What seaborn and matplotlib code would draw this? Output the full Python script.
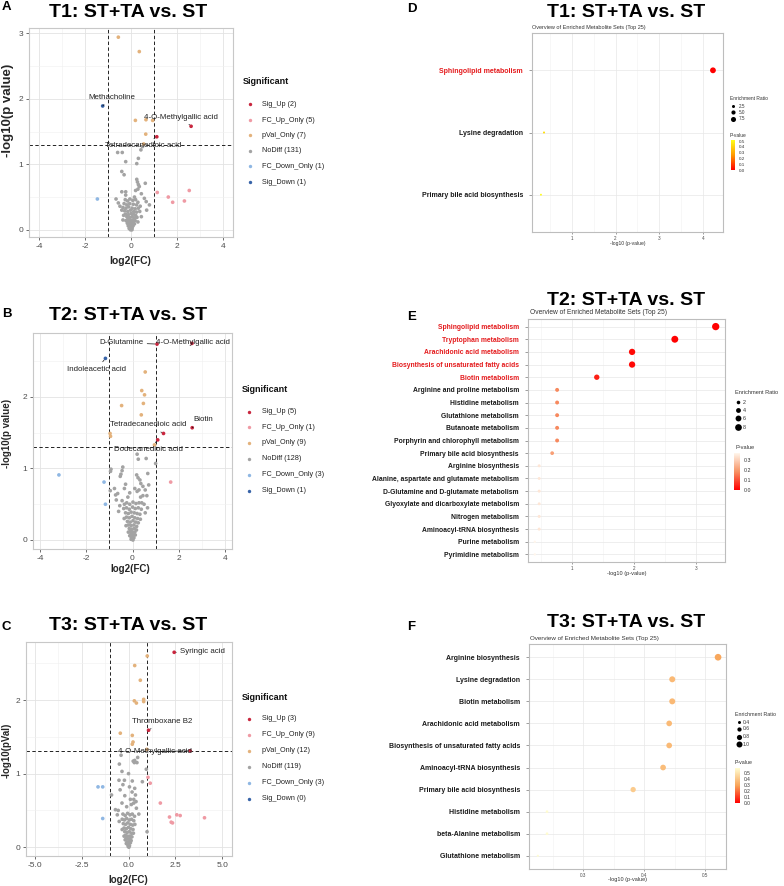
import numpy as np
import pandas as pd
import matplotlib
matplotlib.use("Agg")
import matplotlib.pyplot as plt
import seaborn as sns
from matplotlib.colors import LinearSegmentedColormap, Normalize
from matplotlib.cm import ScalarMappable

sns.set_theme(style="white")
plt.rcParams['font.family'] = ['Liberation Sans', 'DejaVu Sans']

# ---------------- DATA ----------------
# Volcano A (T1)
A_sig_up = [(2.61, 1.58), (1.12, 1.42)]
A_fc_up = [(1.14, 0.57), (1.62, 0.50), (1.81, 0.42), (2.32, 0.44), (2.53, 0.60)]
A_pval = [(-0.55, 2.94), (0.36, 2.72), (0.19, 1.67), (0.65, 1.68), (0.94, 1.67), (0.64, 1.46), (0.55, 1.31)]
A_fc_down = [(-1.46, 0.47)]
A_sig_down = [(-1.23, 1.89)]
A_nodiff = [(-0.58, 1.18), (-0.38, 1.18), (0.43, 1.22), (0.50, 1.27), (-0.23, 1.04), (0.32, 1.09), (0.25, 1.01),
            (-0.40, 0.89), (-0.30, 0.84), (0.25, 0.77), (0.28, 0.73), (0.32, 0.69), (0.36, 0.66), (0.62, 0.71),
            (0.30, 0.62), (0.20, 0.60), (-0.40, 0.58), (-0.23, 0.58), (-0.23, 0.53), (-0.65, 0.47), (-0.55, 0.41),
            (-0.48, 0.36), (0.58, 0.48), (0.66, 0.43), (0.80, 0.38), (0.68, 0.30), (0.45, 0.55), (0.15, 0.50),
            (-0.25, 0.46), (-0.15, 0.44), (-0.05, 0.47), (0.08, 0.45), (0.20, 0.46), (0.30, 0.42),
            (-0.30, 0.40), (-0.18, 0.38), (-0.06, 0.40), (0.10, 0.39), (0.24, 0.38), (0.40, 0.36),
            (-0.35, 0.34), (-0.22, 0.33), (-0.10, 0.35), (0.05, 0.33), (0.18, 0.32), (0.32, 0.33),
            (-0.28, 0.29), (-0.14, 0.28), (-0.02, 0.30), (0.12, 0.28), (0.24, 0.27), (0.38, 0.28),
            (-0.24, 0.24), (-0.12, 0.23), (0.00, 0.25), (0.10, 0.24), (0.20, 0.22), (-0.32, 0.22),
            (-0.18, 0.20), (-0.06, 0.19), (0.05, 0.20), (0.15, 0.18), (0.26, 0.19),
            (-0.14, 0.16), (-0.03, 0.15), (0.08, 0.15), (0.18, 0.14), (-0.22, 0.14),
            (-0.10, 0.12), (0.00, 0.11), (0.10, 0.11), (-0.16, 0.10), (0.15, 0.09),
            (-0.07, 0.08), (0.03, 0.07), (0.09, 0.06), (-0.12, 0.06),
            (-0.05, 0.04), (0.00, 0.03), (0.05, 0.03), (-0.08, 0.02), (0.02, 0.01), (-0.02, 0.00), (0.04, 0.00),
            (-0.40, 0.30), (0.45, 0.20), (-0.35, 0.15), (0.30, 0.12)]
A_counts = [2, 5, 7, 131, 1, 1]

# Volcano B (T2)
B_sig_up = [(1.06, 2.74), (2.57, 2.75), (1.34, 1.49), (1.09, 1.40), (2.58, 1.57)]
B_fc_up = [(1.65, 0.81)]
B_pval = [(0.55, 2.35), (0.40, 2.09), (0.52, 2.03), (0.47, 1.91), (-0.47, 1.88), (0.38, 1.75),
          (-0.97, 1.49), (-0.95, 1.45), (0.95, 1.33)]
B_fc_down = [(-3.18, 0.91), (-1.23, 0.81), (-1.17, 0.50)]
B_sig_down = [(-1.17, 2.54)]
B_nodiff = [(0.25, 1.13), (0.59, 1.14), (0.20, 1.20), (-0.93, 0.99), (-0.95, 0.96), (-0.42, 1.02), (-0.45, 0.97),
            (-0.50, 0.92), (-0.53, 0.89), (1.00, 1.07), (0.66, 0.93), (0.18, 0.91), (0.24, 0.87), (0.32, 0.84),
            (0.36, 0.79), (-0.78, 0.72), (-0.64, 0.65), (-0.96, 0.69), (-0.73, 0.63), (-0.70, 0.56), (0.45, 0.75),
            (0.55, 0.70), (0.62, 0.62), (0.70, 0.77), (-0.30, 0.78), (-0.35, 0.72), (-0.20, 0.60), (0.35, 0.60),
            (0.20, 0.68), (0.10, 0.72), (-0.45, 0.55), (-0.55, 0.48), (0.50, 0.50), (0.65, 0.45), (0.40, 0.52),
            (-0.60, 0.40), (0.55, 0.38), (-0.12, 0.66), (0.28, 0.70), (0.45, 0.62),
            (-0.35, 0.50), (-0.25, 0.52), (-0.12, 0.50), (0.02, 0.53), (0.15, 0.51), (0.28, 0.52),
            (-0.38, 0.44), (-0.26, 0.45), (-0.14, 0.43), (0.00, 0.46), (0.12, 0.44), (0.25, 0.45), (0.38, 0.43),
            (-0.30, 0.38), (-0.18, 0.37), (-0.06, 0.39), (0.08, 0.38), (0.20, 0.37), (0.32, 0.36),
            (-0.26, 0.32), (-0.14, 0.31), (-0.02, 0.33), (0.10, 0.31), (0.22, 0.30), (-0.36, 0.30), (0.34, 0.29),
            (-0.22, 0.26), (-0.10, 0.25), (0.02, 0.27), (0.14, 0.25), (0.25, 0.24),
            (-0.18, 0.21), (-0.06, 0.20), (0.06, 0.21), (0.18, 0.19), (-0.28, 0.20),
            (-0.14, 0.16), (-0.03, 0.15), (0.08, 0.16), (0.17, 0.14),
            (-0.10, 0.12), (0.00, 0.11), (0.10, 0.11), (-0.18, 0.11),
            (-0.07, 0.08), (0.04, 0.07), (0.12, 0.07), (-0.12, 0.06),
            (-0.05, 0.04), (0.00, 0.03), (0.06, 0.03), (-0.02, 0.01), (0.02, 0.00), (-0.06, 0.01)]
B_counts = [5, 1, 9, 128, 3, 1]

# Volcano C (T3)
C_sig_up = [(2.44, 2.65), (1.07, 1.59), (3.29, 1.31)]
C_fc_up = [(1.04, 0.95), (1.16, 0.87), (1.70, 0.60), (2.19, 0.41), (2.28, 0.34), (2.35, 0.33),
           (2.58, 0.44), (2.76, 0.43), (4.06, 0.40)]
C_pval = [(1.00, 2.60), (0.33, 2.47), (0.63, 2.27), (0.31, 1.99), (0.42, 1.96), (0.81, 2.01), (0.81, 1.98),
          (-0.44, 1.55), (0.20, 1.52), (0.24, 1.43), (0.20, 1.40), (0.98, 1.33)]
C_fc_down = [(-1.63, 0.82), (-1.38, 0.82), (-1.38, 0.39)]
C_sig_down = []
C_nodiff = [(-0.40, 1.25), (0.31, 1.15), (0.25, 1.17), (-0.49, 1.13), (0.49, 1.22), (0.95, 1.06), (-0.35, 1.03),
            (0.00, 1.00), (-0.51, 0.91), (-0.22, 0.91), (0.20, 0.90), (0.74, 0.89), (0.33, 1.18), (0.45, 1.15),
            (0.33, 0.80), (0.19, 0.75), (0.37, 0.71), (0.28, 0.65), (0.28, 0.60), (0.42, 0.53), (-0.91, 0.71),
            (-0.70, 0.51), (-0.60, 0.44), (0.99, 0.21), (-0.30, 0.85), (-0.45, 0.78), (-0.20, 0.70), (0.05, 0.82),
            (0.10, 0.65), (-0.35, 0.60), (0.55, 0.45), (-0.50, 0.35), (-0.55, 0.50), (0.15, 0.58), (-0.10, 0.55),
            (0.40, 0.62),
            (-0.30, 0.45), (-0.18, 0.43), (-0.05, 0.46), (0.08, 0.44), (0.20, 0.45), (0.32, 0.42),
            (-0.34, 0.38), (-0.22, 0.37), (-0.10, 0.39), (0.04, 0.37), (0.16, 0.38), (0.28, 0.36),
            (-0.28, 0.32), (-0.16, 0.31), (-0.04, 0.33), (0.10, 0.31), (0.22, 0.30), (0.34, 0.31),
            (-0.24, 0.26), (-0.12, 0.25), (0.00, 0.27), (0.12, 0.25), (0.24, 0.24), (-0.34, 0.24),
            (-0.20, 0.21), (-0.08, 0.20), (0.04, 0.21), (0.16, 0.19), (0.26, 0.19),
            (-0.16, 0.16), (-0.04, 0.15), (0.08, 0.15), (0.18, 0.14), (-0.24, 0.15),
            (-0.12, 0.12), (-0.02, 0.11), (0.08, 0.11), (0.14, 0.09), (-0.18, 0.10),
            (-0.08, 0.07), (0.02, 0.07), (0.10, 0.06), (-0.12, 0.05),
            (-0.05, 0.04), (0.00, 0.03), (0.05, 0.02), (-0.02, 0.01), (0.02, 0.00)]
C_counts = [3, 9, 12, 119, 3, 0]

LEGEND_GROUPS = ["Sig_Up", "FC_Up_Only", "pVal_Only", "NoDiff", "FC_Down_Only", "Sig_Down"]

# Enrichment D (T1)
D_sets = ["Sphingolipid metabolism", "Lysine degradation", "Primary bile acid biosynthesis"]
D_neglogp = [4.23, 0.36, 0.29]
D_ratio = [10.0, 1.0, 0.8]
D_hit = [True, False, False]

# Enrichment E (T2)
E_sets = ["Sphingolipid metabolism", "Tryptophan metabolism", "Arachidonic acid metabolism",
          "Biosynthesis of unsaturated fatty acids", "Biotin metabolism", "Arginine and proline metabolism",
          "Histidine metabolism", "Glutathione metabolism", "Butanoate metabolism",
          "Porphyrin and chlorophyll metabolism", "Primary bile acid biosynthesis", "Arginine biosynthesis",
          "Alanine, aspartate and glutamate metabolism", "D-Glutamine and D-glutamate metabolism",
          "Glyoxylate and dicarboxylate metabolism", "Nitrogen metabolism", "Aminoacyl-tRNA biosynthesis",
          "Purine metabolism", "Pyrimidine metabolism"]
E_neglogp = [3.32, 2.66, 1.97, 1.97, 1.40, 0.76, 0.76, 0.76, 0.76, 0.76, 0.68, 0.47, 0.47, 0.47, 0.47,
             0.47, 0.47, 0.40, 0.40]
E_ratio = [9.5, 8.5, 7.0, 7.0, 5.0, 2.5, 2.5, 2.5, 2.5, 2.5, 2.2, 1.3, 1.2, 1.3, 1.2, 1.3, 1.3, 0.7, 0.7]
E_hit = [True] * 5 + [False] * 14

# Enrichment F (T3)
F_sets = ["Arginine biosynthesis", "Lysine degradation", "Biotin metabolism", "Arachidonic acid metabolism",
          "Biosynthesis of unsaturated fatty acids", "Aminoacyl-tRNA biosynthesis",
          "Primary bile acid biosynthesis", "Histidine metabolism", "beta-Alanine metabolism",
          "Glutathione metabolism"]
F_neglogp = [0.521, 0.446, 0.446, 0.441, 0.441, 0.431, 0.382, 0.241, 0.241, 0.226]
F_ratio = [1.19, 1.0, 1.0, 0.92, 0.92, 0.92, 0.83, 0.36, 0.36, 0.30]
F_hit = [False] * 10

# ---------------- STYLE / LAYOUT ----------------
PALETTE = {"Sig_Up": "#C8263E", "FC_Up_Only": "#EF9AA4", "pVal_Only": "#E3B27C",
           "NoDiff": "#A3A3A3", "FC_Down_Only": "#8FB7E3", "Sig_Down": "#3763A8"}
DRAW_ORDER = ["NoDiff", "FC_Down_Only", "FC_Up_Only", "pVal_Only", "Sig_Down", "Sig_Up"]

W, H = 784, 886
fig = plt.figure(figsize=(W / 100, H / 100), dpi=100)


def add_ax(x0, y0, x1, y1):
    return fig.add_axes([x0 / W, 1 - y1 / H, (x1 - x0) / W, (y1 - y0) / H])


def ftext(x, y, s, **kw):
    return fig.text(x / W, 1 - y / H, s, **kw)


ov = fig.add_axes([0, 0, 1, 1])
ov.set_xlim(0, W)
ov.set_ylim(H, 0)
ov.axis('off')
ov.patch.set_alpha(0)


def volcano(ax, groups, xlim, ylim, xticks, xticklabels, yticks, xminor, yminor, labels):
    frames = []
    for g in DRAW_ORDER:
        pts = groups[g]
        if len(pts):
            arr = np.array(pts, dtype=float)
            frames.append(pd.DataFrame({"fc": arr[:, 0], "nlp": arr[:, 1], "grp": g}))
    df = pd.concat(frames, ignore_index=True)
    ax.set_facecolor("white")
    ax.set_axisbelow(True)
    sns.scatterplot(data=df, x="fc", y="nlp", hue="grp", palette=PALETTE, s=7, linewidth=0,
                    legend=False, ax=ax, zorder=3)
    ax.set_xlim(*xlim)
    ax.set_ylim(*ylim)
    ax.set_xticks(xticks)
    ax.set_xticklabels(xticklabels)
    ax.set_yticks(yticks)
    ax.set_yticklabels([str(v) for v in yticks])
    ax.set_xticks(xminor, minor=True)
    ax.set_yticks(yminor, minor=True)
    ax.grid(which="major", color="#E3E3E3", lw=0.6)
    ax.grid(which="minor", color="#F0F0F0", lw=0.4)
    ax.tick_params(which="minor", length=0)
    ax.tick_params(which="major", length=2.5, width=0.5, color="#333333", labelsize=6,
                   labelcolor="#4D4D4D", pad=1.5, left=True, bottom=True)
    for sp in ax.spines.values():
        sp.set_color("#C8C8C8")
        sp.set_linewidth(0.8)
    ax.set_xlabel("")
    ax.set_ylabel("")
    ax.axvline(-1, ls=(0, (3.5, 2.5)), color="#222222", lw=0.7, zorder=2)
    ax.axvline(1, ls=(0, (3.5, 2.5)), color="#222222", lw=0.7, zorder=2)
    ax.axhline(-np.log10(0.05), ls=(0, (3.5, 2.5)), color="#222222", lw=0.7, zorder=2)
    for text, txy, pxy in labels:
        ax.annotate(text, xy=pxy, xytext=txy, ha="center", va="center", fontsize=5.7, color="#222222",
                    zorder=5,
                    arrowprops=dict(arrowstyle="-", color="#111111", lw=0.5, shrinkA=0.5, shrinkB=1.5))


def volcano_legend(x_mark, x_text, y_title, ys, counts):
    ftext(x_mark - 7, y_title, "Significant", fontsize=6.5, fontweight="bold", va="center", ha="left",
          color="#111111")
    for g, y, c in zip(LEGEND_GROUPS, ys, counts):
        ov.scatter([x_mark], [y], s=6, color=PALETTE[g], linewidths=0)
        ftext(x_text, y, f"{g} ({c})", fontsize=5.2, va="center", ha="left", color="#222222")


def dotplot(ax, sets, neglogp, ratio, hit, cmap, vmax, size_norm, sizes, xlim, xticks, xticklabels, xminor,
            label_fs):
    df = pd.DataFrame({"set": sets, "pos": np.arange(len(sets)), "x": neglogp, "ratio": ratio})
    df["p"] = 10 ** (-df["x"])
    ax.set_facecolor("white")
    ax.set_axisbelow(True)
    sns.scatterplot(data=df, x="x", y="pos", hue="p", palette=cmap, hue_norm=Normalize(0, vmax),
                    size="ratio", sizes=sizes, size_norm=size_norm, linewidth=0, legend=False, ax=ax,
                    zorder=3)
    n = len(sets)
    ax.set_ylim(n - 1 + 0.6, -0.6)
    ax.set_xlim(*xlim)
    ax.set_yticks(np.arange(n))
    ax.set_yticklabels(sets)
    for lab, h in zip(ax.get_yticklabels(), hit):
        lab.set_color("#E41A1C" if h else "#1A1A1A")
        lab.set_fontweight("bold")
    ax.set_xticks(xticks)
    ax.set_xticklabels(xticklabels)
    ax.set_xticks(xminor, minor=True)
    ax.grid(which="major", color="#E8E8E8", lw=0.5)
    ax.grid(which="minor", axis="x", color="#F2F2F2", lw=0.4)
    ax.tick_params(which="minor", length=0)
    ax.tick_params(axis="y", which="major", length=2, width=0.4, color="#555555", labelsize=label_fs, pad=4.5,
                   left=True)
    ax.tick_params(axis="x", which="major", length=1.5, width=0.4, color="#555555", labelsize=3.3,
                   labelcolor="#4D4D4D", pad=1.5, bottom=True)
    for sp in ax.spines.values():
        sp.set_color("#BDBDBD")
        sp.set_linewidth(0.8)
    ax.set_xlabel("")
    ax.set_ylabel("")


def size_to_s(v, size_norm, sizes):
    return sizes[0] + (v - size_norm[0]) / (size_norm[1] - size_norm[0]) * (sizes[1] - sizes[0])


def dot_legend(x0, y_er, size_vals, size_labels, size_ys, x_dot, x_lab, size_norm, sizes, y_p, cb_box, cmap,
               vmax, cb_ticks, fs):
    ftext(x0, y_er, "Enrichment Ratio", fontsize=fs, va="center", ha="left", color="#333333")
    for v, lab, y in zip(size_vals, size_labels, size_ys):
        ov.scatter([x_dot], [y], s=size_to_s(v, size_norm, sizes), color="black", linewidths=0)
        ftext(x_lab, y, lab, fontsize=fs * 0.95, va="center", ha="left", color="#333333")
    ftext(x0, y_p, "P-value", fontsize=fs, va="center", ha="left", color="#333333")
    cax = add_ax(*cb_box)
    cb = fig.colorbar(ScalarMappable(norm=Normalize(0, vmax), cmap=cmap), cax=cax)
    cb.outline.set_visible(False)
    cb.set_ticks(cb_ticks)
    cb.set_ticklabels([f"{t:.1f}" for t in cb_ticks])
    cax.tick_params(labelsize=fs * 0.92, length=1.2, width=0.3, color="white", pad=1.5, labelcolor="#333333")


# ---------------- PANELS ----------------
# A
axA = add_ax(29, 28, 233, 237)
volcano(axA, {"Sig_Up": A_sig_up, "FC_Up_Only": A_fc_up, "pVal_Only": A_pval, "NoDiff": A_nodiff,
              "FC_Down_Only": A_fc_down, "Sig_Down": A_sig_down},
        (-4.43, 4.43), (-0.11, 3.08), [-4, -2, 0, 2, 4], ["-4", "-2", "0", "2", "4"], [0, 1, 2, 3],
        [-3, -1, 1, 3], [0.5, 1.5, 2.5],
        [("Methacholine", (-0.83, 2.02), A_sig_down[0]),
         ("4-O-Methylgallic acid", (2.17, 1.72), A_sig_up[0]),
         ("Tetradecanedioic acid", (0.54, 1.28), A_sig_up[1])])
volcano_legend(250, 262, 82, [104, 120, 135, 151, 166, 182], A_counts)

# B
axB = add_ax(33, 333, 232, 549)
volcano(axB, {"Sig_Up": B_sig_up, "FC_Up_Only": B_fc_up, "pVal_Only": B_pval, "NoDiff": B_nodiff,
              "FC_Down_Only": B_fc_down, "Sig_Down": B_sig_down},
        (-4.3, 4.3), (-0.126, 2.895), [-4, -2, 0, 2, 4], ["-4", "-2", "0", "2", "4"], [0, 1, 2],
        [-3, -1, 1, 3], [0.5, 1.5, 2.5],
        [("D-Glutamine", (-0.49, 2.76), B_sig_up[0]),
         ("4-O-Methylgallic acid", (2.62, 2.76), B_sig_up[1]),
         ("Indoleacetic acid", (-1.54, 2.39), B_sig_down[0]),
         ("Tetradecanedioic acid", (0.67, 1.61), B_sig_up[2]),
         ("Biotin", (3.04, 1.68), B_sig_up[4]),
         ("Dodecanedioic acid", (0.71, 1.26), B_sig_up[3])])
volcano_legend(249, 262, 389, [412, 427, 443, 459, 475, 491], B_counts)

# C
axC = add_ax(26, 642, 232, 856)
volcano(axC, {"Sig_Up": C_sig_up, "FC_Up_Only": C_fc_up, "pVal_Only": C_pval, "NoDiff": C_nodiff,
              "FC_Down_Only": C_fc_down, "Sig_Down": C_sig_down},
        (-5.48, 5.53), (-0.12, 2.79), [-5, -2.5, 0, 2.5, 5], ["-5.0", "-2.5", "0.0", "2.5", "5.0"], [0, 1, 2],
        [-3.75, -1.25, 1.25, 3.75], [0.5, 1.5, 2.5],
        [("Syringic acid", (3.97, 2.66), C_sig_up[0]),
         ("Thromboxane B2", (1.78, 1.71), C_sig_up[1]),
         ("4-O-Methylgallic acid", (1.43, 1.30), C_sig_up[2])])
volcano_legend(249, 262, 697, [719, 735, 751, 767, 783, 799], C_counts)

# Volcano titles / labels
for (tx, ty, letter, ly, title) in [(128, 17, "A", 10, "T1: ST+TA vs. ST"),
                                    (128, 320, "B", 317, "T2: ST+TA vs. ST"),
                                    (128, 630, "C", 630, "T3: ST+TA vs. ST")]:
    ftext(tx, ty, title, fontsize=14, fontweight="bold", ha="center", va="baseline", color="black")
    ftext(2, ly, letter, fontsize=9.5, fontweight="bold", ha="left", va="baseline", color="black")

ftext(8, 110, "-log10(p value)", fontsize=9.5, fontweight="bold", rotation=90, ha="center", va="center")
ftext(130, 261, "log2(FC)", fontsize=7.5, fontweight="bold", ha="center", va="center")
ftext(7, 433, "-log10(p value)", fontsize=7, fontweight="bold", rotation=90, ha="center", va="center")
ftext(130, 569, "log2(FC)", fontsize=7, fontweight="bold", ha="center", va="center")
ftext(7, 750, "-log10(pVal)", fontsize=7, fontweight="bold", rotation=90, ha="center", va="center")
ftext(128, 880, "log2(FC)", fontsize=7, fontweight="bold", ha="center", va="center")

# Colormaps
cmapD = LinearSegmentedColormap.from_list("d", ["#FF0000", "#FF9A00", "#FFFF1A"])
cmapE = LinearSegmentedColormap.from_list("e", ["#FF0000", "#F79264", "#FFF6EC"])
cmapF = LinearSegmentedColormap.from_list("f", ["#FF0000", "#F8A458", "#FFFDD2"])

# D
snD, szD = (0, 10), (0.5, 17.5)
axD = add_ax(532, 33, 723, 232)
dotplot(axD, D_sets, D_neglogp, D_ratio, D_hit, cmapD, 0.52, snD, szD, (0.085, 4.46), [1, 2, 3, 4],
        ["1", "2", "3", "4"], [0.5, 1.5, 2.5, 3.5], 5.0)
dot_legend(730, 98, [2.5, 5.0, 7.5], ["2.5", "5.0", "7.5"], [106, 112, 119], 733, 739, snD, szD, 135,
           (731, 140, 735, 170), cmapD, 0.52, [0, 0.1, 0.2, 0.3, 0.4, 0.5], 3.5)

# E
snE, szE = (0, 10), (1.0, 29.0)
axE = add_ax(528, 319, 725, 562)
dotplot(axE, E_sets, E_neglogp, E_ratio, E_hit, cmapE, 0.37, snE, szE, (0.29, 3.47), [1, 2, 3],
        ["1", "2", "3"], [0.5, 1.5, 2.5], 4.9)
dot_legend(735, 393, [2, 4, 6, 8], ["2", "4", "6", "8"], [402, 410, 418, 427], 738, 743, snE, szE, 447,
           (734, 453, 740, 490), cmapE, 0.37, [0, 0.1, 0.2, 0.3], 4.1)

# F
snF, szF = (0.3, 1.2), (2.3, 23.3)
axF = add_ax(529, 644, 726, 869)
dotplot(axF, F_sets, F_neglogp, F_ratio, F_hit, cmapF, 0.58, snF, szF, (0.2115, 0.534), [0.3, 0.4, 0.5],
        ["0.3", "0.4", "0.5"], [0.25, 0.35, 0.45], 5.0)
dot_legend(735, 714, [0.4, 0.6, 0.8, 1.0], ["0.4", "0.6", "0.8", "1.0"], [722, 729, 737, 744], 739, 743,
           snF, szF, 763, (735, 768, 740, 803), cmapF, 0.58, [0, 0.1, 0.2, 0.3, 0.4, 0.5], 3.8)

# Enrichment titles / labels
for (ty, letter, ly, title, sy, sfs) in [
        (17, "D", 12, "T1: ST+TA vs. ST", 29, 4.0),
        (305, "E", 320, "T2: ST+TA vs. ST", 314, 4.8),
        (627, "F", 630, "T3: ST+TA vs. ST", 640, 4.5)]:
    ftext(626, ty, title, fontsize=14, fontweight="bold", ha="center", va="baseline", color="black")
    ftext(407, ly, letter, fontsize=9.5, fontweight="bold", ha="left", va="baseline", color="black")
    ftext(530 if letter != "D" else 532, sy, "Overview of Enriched Metabolite Sets (Top 25)", fontsize=sfs,
          ha="left", va="baseline", color="#333333")
for ax, y, fs in [(axD, 243, 3.6), (axE, 573, 4.1), (axF, 880, 4.0)]:
    pos = ax.get_position()
    fig.text((pos.x0 + pos.x1) / 2, 1 - y / H, "-log10 (p-value)", fontsize=fs, ha="center", va="center",
             color="#333333")

fig.savefig("out.png", dpi=100)
